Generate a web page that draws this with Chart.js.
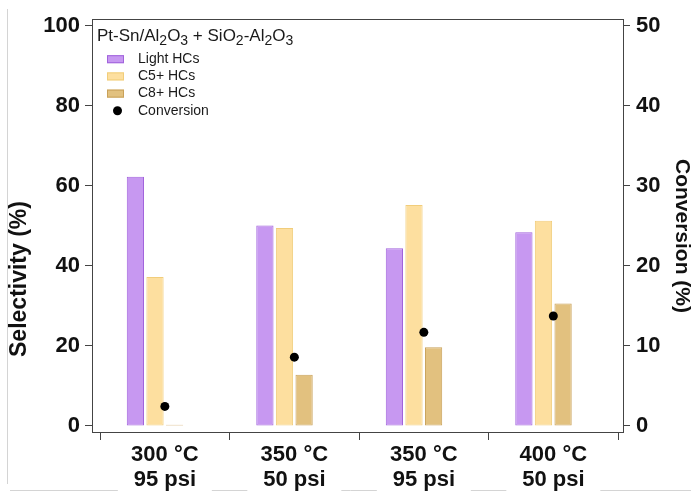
<!DOCTYPE html>
<html>
<head>
<meta charset="utf-8">
<script src="https://cdn.jsdelivr.net/npm/chart.js@4.4.1/dist/chart.umd.min.js"></script>
<style>
  html, body { margin: 0; padding: 0; background: #fff; }
  #wrap { width: 691px; height: 495px; position: relative; }
</style>
</head>
<body>
<div id="wrap"><canvas id="chart"></canvas></div>
<script>
// conditions (x categories)
const categories = [['300 °C', '95 psi'], ['350 °C', '50 psi'], ['350 °C', '95 psi'], ['400 °C', '50 psi']];

// selectivity (%) - left axis
const lightHCs = [62.3, 50.1, 44.4, 48.4];
const c5HCs = [37.2, 49.5, 55.2, 51.3];
const c8HCs = [0.3, 12.8, 19.7, 30.6];

// conversion (%) - right axis
const conversion = [2.45, 8.6, 11.7, 13.75];

// tick labels
const selTicks = [0, 20, 40, 60, 80, 100];
const convTicks = [0, 10, 20, 30, 40, 50];

// the dots + the category ticks sit a bit right of the bar group center
const DOT_SHIFT = 0.076;

const FONT = "'Liberation Sans', Arial, sans-serif";
const AXIS_COLOR = '#444';

// frame, grey scan lines, axis titles, legend
const framePlugin = {
  id: 'frame',
  beforeDraw(chart) {
    const { ctx } = chart;
    ctx.save();
    ctx.fillStyle = '#fff';
    ctx.fillRect(0, 0, chart.width, chart.height);
    // faint grey border lines from the original figure
    ctx.strokeStyle = '#d4d4d4';
    ctx.lineWidth = 1;
    ctx.beginPath();
    ctx.moveTo(7.5, 9);
    ctx.lineTo(7.5, 484);
    ctx.moveTo(10, 490.5);
    ctx.lineTo(chart.width, 490.5);
    ctx.stroke();
    const xs = chart.scales.x;
    ctx.fillStyle = '#fff';
    categories.forEach((c, i) => {
      const cx = xs.getPixelForValue(i + DOT_SHIFT);
      ctx.fillRect(cx - 47, 480, 94, 15);
    });
    ctx.restore();
  },
  afterDatasetsDraw(chart) {
    const { ctx, chartArea: a } = chart;
    ctx.save();
    ctx.strokeStyle = AXIS_COLOR;
    ctx.lineWidth = 1;
    ctx.strokeRect(Math.round(a.left) + 0.5, Math.round(a.top) + 0.5,
      Math.round(a.right - a.left), Math.round(a.bottom - a.top));

    // axis titles
    ctx.fillStyle = '#111';
    ctx.textAlign = 'center';
    ctx.textBaseline = 'middle';
    ctx.save();
    ctx.translate(20, 279);
    ctx.rotate(-Math.PI / 2);
    ctx.font = 'bold 23px ' + FONT;
    ctx.fillText('Selectivity (%)', 0, 0);
    ctx.restore();
    ctx.save();
    ctx.translate(682, 236);
    ctx.rotate(Math.PI / 2);
    ctx.font = 'bold 21px ' + FONT;
    ctx.fillText('Conversion (%)', 0, 0);
    ctx.restore();

    // legend title with subscripts
    const parts = [['Pt-Sn/Al', 0], ['2', 1], ['O', 0], ['3', 1], [' + SiO', 0], ['2', 1],
      ['-Al', 0], ['2', 1], ['O', 0], ['3', 1]];
    let x = a.left + 5;
    const base = a.top + 22;
    ctx.fillStyle = '#1a1a1a';
    ctx.textBaseline = 'alphabetic';
    ctx.textAlign = 'left';
    parts.forEach(([t, sub]) => {
      ctx.font = (sub ? '14px ' : '17px ') + FONT;
      ctx.fillText(t, x, base + (sub ? 4 : 0));
      x += ctx.measureText(t).width;
    });

    // legend items
    ctx.font = '14px ' + FONT;
    ctx.textBaseline = 'middle';
    chart.data.datasets.forEach((ds, i) => {
      const y = a.top + 40 + i * 17.2;
      if (ds.type === 'line') {
        ctx.fillStyle = '#000';
        ctx.beginPath();
        ctx.arc(a.left + 25.5, y, 4.5, 0, Math.PI * 2);
        ctx.fill();
      } else {
        ctx.fillStyle = ds.backgroundColor;
        ctx.strokeStyle = ds.borderColor;
        ctx.fillRect(a.left + 15, y - 4, 17, 8);
        ctx.strokeRect(a.left + 15.5, y - 3.5, 16, 7);
      }
      ctx.fillStyle = '#1a1a1a';
      ctx.fillText(ds.label, a.left + 46, y);
    });
    ctx.restore();
  }
};

const barSet = (label, values, fill, border) => ({
  type: 'bar',
  label,
  data: values.map((v, i) => ({ x: i, y: v })),
  backgroundColor: fill,
  borderColor: border,
  borderWidth: 1,
  borderSkipped: false,
  categoryPercentage: 0.454,
  barPercentage: 0.88,
  yAxisID: 'y',
  order: 1
});

new Chart(document.getElementById('chart'), {
  type: 'bar',
  data: {
    datasets: [
      barSet('Light HCs', lightHCs, '#c798f1', '#a163dc'),
      barSet('C5+ HCs', c5HCs, '#fddf9f', '#f1cd7b'),
      barSet('C8+ HCs', c8HCs, '#e2c17f', '#c9a159'),
      {
        type: 'line',
        label: 'Conversion',
        data: conversion.map((v, i) => ({ x: i + DOT_SHIFT, y: v })),
        showLine: false,
        pointRadius: 4.5,
        pointBackgroundColor: '#000',
        pointBorderWidth: 0,
        yAxisID: 'y1',
        order: 0
      }
    ]
  },
  options: {
    responsive: true,
    maintainAspectRatio: false,
    animation: false,
    layout: { padding: { top: 17 } },
    plugins: {
      legend: { display: false },
      tooltip: { enabled: false }
    },
    scales: {
      x: {
        type: 'linear',
        offset: false,
        min: -0.4865,
        max: 3.614,
        afterBuildTicks: (s) => {
          s.ticks = categories.concat([null]).map((c, i) => ({ value: i - 0.5 + DOT_SHIFT }));
        },
        afterFit: (s) => { s.height = 63; },
        border: { display: false },
        grid: { offset: false, drawOnChartArea: false, drawTicks: true, tickLength: 8, color: AXIS_COLOR },
        ticks: {
          autoSkip: false,
          maxRotation: 0,
          labelOffset: 64.75,
          padding: 2,
          color: '#111',
          font: { family: FONT, size: 22, weight: 'bold', lineHeight: 1.15 },
          callback: (v, i) => categories[i] || ''
        }
      },
      y: {
        position: 'left',
        min: -1.5,
        max: 101.65,
        afterBuildTicks: (s) => { s.ticks = selTicks.map(v => ({ value: v })); },
        afterFit: (s) => { s.width = 92; },
        border: { display: false },
        grid: { drawOnChartArea: false, drawTicks: true, tickLength: 7, color: AXIS_COLOR },
        ticks: {
          padding: 5,
          color: '#111',
          font: { family: FONT, size: 22, weight: 'bold' }
        }
      },
      y1: {
        position: 'right',
        min: -0.75,
        max: 50.83,
        afterBuildTicks: (s) => { s.ticks = convTicks.map(v => ({ value: v })); },
        afterFit: (s) => { s.width = 68; },
        border: { display: false },
        grid: { drawOnChartArea: false, drawTicks: true, tickLength: 7, color: AXIS_COLOR },
        ticks: {
          padding: 6,
          color: '#111',
          font: { family: FONT, size: 22, weight: 'bold' }
        }
      }
    }
  },
  plugins: [framePlugin]
});
</script>
</body>
</html>
